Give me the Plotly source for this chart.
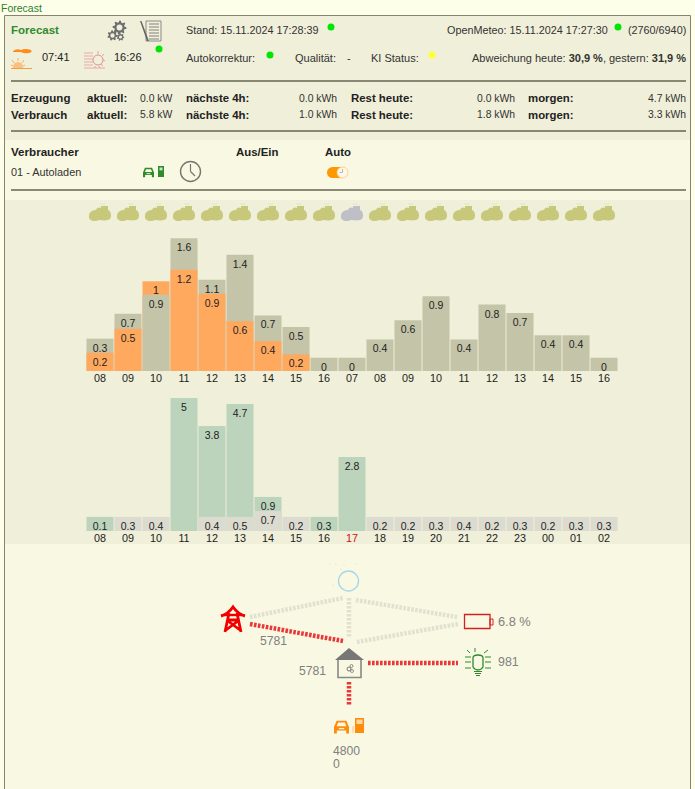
import re
import math
import plotly.graph_objects as go

W = 695
H = 789

pv_hours = ['08','09','10','11','12','13','14','15','16','07','08','09','10','11','12','13','14','15','16']
pv_forecast = [0.39,0.69,0.92,1.60,1.10,1.40,0.67,0.53,0.16,0.16,0.38,0.61,0.90,0.38,0.80,0.70,0.43,0.43,0.16]
pv_forecast_text = ['0.3','0.7','0.9','1.6','1.1','1.4','0.7','0.5','0','0','0.4','0.6','0.9','0.4','0.8','0.7','0.4','0.4','0']
pv_real = [0.22,0.51,1.08,1.22,0.93,0.60,0.36,0.20]
pv_real_text = ['0.2','0.5','1','1.2','0.9','0.6','0.4','0.2']
weather_grey = ['07']

# lower chart, consumption per hour
con_hours = ['08','09','10','11','12','13','14','15','16','17','18','19','20','21','22','23','00','01','02']
con_real = [0.53,None,None,5.00,3.95,4.77,1.28,None,0.53,2.78,None,None,None,None,None,None,None,None,None]
con_real_text = ['0.1','','','5','3.8','4.7','0.9','','0.3','2.8','','','','','','','','','']
con_forecast = [None,0.53,0.53,None,0.53,0.53,0.75,0.53,None,None,0.53,0.53,0.53,0.53,0.53,0.53,0.53,0.53,0.53]
con_forecast_text = ['','0.3','0.4','','0.4','0.5','0.7','0.2','','','0.2','0.2','0.3','0.4','0.2','0.3','0.2','0.3','0.3']
current_hour = '17'

C_GREY = '#c4c4a9'
C_ORANGE = '#ffa95f'
C_GREEN = '#bcd4bc'
C_LIGHT = '#dcdbd0'
C_PAGE = '#feffe8'
C_PANEL = '#f0efd9'
C_PANEL2 = '#f9f8e2'
C_RULE = '#66664f'
C_TEXT = '#333333'
FONT = 'Liberation Sans, Arial, sans-serif'


def px(x, y):
    return x / W, 1 - y / H


def pth(d):
    out = []
    isx = True
    for tok in re.findall(r'[A-Za-z]|-?[\d.]+', d):
        if tok.isalpha():
            out.append(tok)
            isx = True
        elif isx:
            out.append(str(float(tok) / W))
            isx = False
        else:
            out.append(str(1 - float(tok) / H))
            isx = True
    return ' '.join(out)


shapes = []
notes = []


def rect(x0, y0, x1, y1, fill=None, line=None, lw=1, layer='above'):
    a, b = px(x0, y0)
    c, d = px(x1, y1)
    shapes.append(dict(type='rect', xref='paper', yref='paper', x0=a, y0=b, x1=c, y1=d, layer=layer,
                       fillcolor=fill or 'rgba(0,0,0,0)', line=dict(color=line or 'rgba(0,0,0,0)', width=lw if line else 0)))


def seg(x0, y0, x1, y1, color, lw=1, dash=None, layer='above'):
    a, b = px(x0, y0)
    c, d = px(x1, y1)
    shapes.append(dict(type='line', xref='paper', yref='paper', x0=a, y0=b, x1=c, y1=d, layer=layer,
                       line=dict(color=color, width=lw, dash=dash or 'solid')))


def circ(cx, cy, r, fill=None, line=None, lw=1):
    a, b = px(cx - r, cy - r)
    c, d = px(cx + r, cy + r)
    shapes.append(dict(type='circle', xref='paper', yref='paper', x0=a, y0=b, x1=c, y1=d,
                       fillcolor=fill or 'rgba(0,0,0,0)', line=dict(color=line or 'rgba(0,0,0,0)', width=lw if line else 0)))


def poly(d, fill=None, line=None, lw=1):
    shapes.append(dict(type='path', xref='paper', yref='paper', path=pth(d),
                       fillcolor=fill or 'rgba(0,0,0,0)', line=dict(color=line or 'rgba(0,0,0,0)', width=lw if line else 0)))


def label(x, y, text, size=11, color=C_TEXT, bold=False, anchor='left'):
    a, b = px(x, y)
    if bold:
        text = '<b>' + text + '</b>'
    notes.append(dict(xref='paper', yref='paper', x=a, y=b, text=text, showarrow=False, xanchor=anchor, yanchor='middle',
                      font=dict(family=FONT, size=size, color=color), borderpad=0, borderwidth=0))


def gear(cx, cy, r, teeth, color):
    pts = []
    for i in range(teeth * 4):
        rad = r if i % 4 in (0, 1) else r * 0.72
        ang = 2 * math.pi * i / (teeth * 4)
        pts.append('%s %.2f %.2f' % ('M' if i == 0 else 'L', cx + rad * math.cos(ang), cy + rad * math.sin(ang)))
    poly(' '.join(pts) + ' Z', fill=color)
    circ(cx, cy, r * 0.42, fill=C_PANEL)


def cloud(cx, color):
    cy = 213
    d = (f'M {cx-11} {cy+3} C {cx-11} {cy-2} {cx-6} {cy-3} {cx-4} {cy-3} '
         f'C {cx-3} {cy-6} {cx} {cy-6} {cx+1} {cy-5} L {cx+1} {cy-7} L {cx+8} {cy-7} L {cx+8} {cy-3} '
         f'C {cx+12} {cy-2} {cx+12} {cy+7} {cx+8} {cy+7} C {cx+4} {cy+8} {cx+2} {cy+7} {cx-1} {cy+7} '
         f'C {cx-5} {cy+9} {cx-12} {cy+8} {cx-11} {cy+3} Z')
    poly(d, fill=color)
    for dx in (1, 3, 5):
        circ(cx + dx, cy - 9, 0.4, fill=color)


# backgrounds
rect(4.5, 15.5, 690.5, 800, fill=C_PANEL2, line='#85856f', lw=1, layer='below')
rect(5, 16, 690, 140, fill=C_PANEL, layer='below')
rect(5, 200, 690, 544, fill=C_PANEL, layer='below')

for yy in (81, 131, 190):
    seg(11, yy, 686, yy, C_RULE, lw=1.6)

# header text
label(1, 8, 'Forecast', size=10.5, color='#2e7d32')
label(11, 30, 'Forecast', size=11.5, color='#2e8b2e', bold=True)
label(186, 30, 'Stand: 15.11.2024 17:28:39', size=10.8)
label(608, 30, 'OpenMeteo: 15.11.2024 17:27:30', size=10.8, anchor='right')
label(686, 30, '(2760/6940)', size=10.8, anchor='right')
label(42, 57, '07:41', color='#222222')
label(114, 57, '16:26', color='#222222')
label(186, 58, 'Autokorrektur:')
label(295, 58, 'Qualität:')
label(347, 58, '-')
label(371, 58, 'KI Status:')
label(686, 58, 'Abweichung heute: <b>30,9 %</b>, gestern: <b>31,9 %</b>', anchor='right')

for x, y, col in [(331, 27, '#00e600'), (618, 27, '#00e600'), (159, 49, '#00e600'), (270, 55, '#00e600'), (432, 55, '#ffff33')]:
    circ(x, y, 3.5, fill=col)

# summary rows
for y, name, now, n4, rest, tom in [(98, 'Erzeugung', '0.0 kW', '0.0 kWh', '0.0 kWh', '4.7 kWh'),
                                    (115, 'Verbrauch', '5.8 kW', '1.0 kWh', '1.8 kWh', '3.3 kWh')]:
    label(11, y, name, size=11.5, bold=True, color='#222222')
    label(87, y, 'aktuell:', size=11.5, bold=True, color='#222222')
    label(173, y, now, size=10.4, anchor='right')
    label(186, y, 'nächste 4h:', size=11.4, bold=True, color='#222222')
    label(337, y, n4, size=10.4, anchor='right')
    label(351, y, 'Rest heute:', size=11.4, bold=True, color='#222222')
    label(515, y, rest, size=10.4, anchor='right')
    label(528, y, 'morgen:', size=11.4, bold=True, color='#222222')
    label(686, y, tom, size=10.4, anchor='right')

label(11, 152, 'Verbraucher', size=11.6, bold=True, color='#222222')
label(236, 152, 'Aus/Ein', size=11.4, bold=True, color='#222222')
label(325, 152, 'Auto', size=11.4, bold=True, color='#222222')
label(11, 172, '01 - Autoladen', size=10.9)

# header icons
gear(119.5, 27.5, 7, 8, '#6e6e6e')
gear(112.5, 35.5, 5.2, 7, '#6e6e6e')
gear(120.5, 37, 3.8, 7, '#6e6e6e')
rect(146, 21, 161, 41, line='#8a8a8a', lw=1)
for yy in range(24, 40, 3):
    seg(149, yy, 159, yy, '#808080', lw=1)
poly('M 140 21 L 141.5 21 L 149 41 L 147 41 Z', fill='#666666')

poly('M 13 51 Q 17 48 21 50 Q 25 48 31 50 Q 33 52 29 53 Q 24 54 21 52 L 13 52 Z', fill='#ff8c1a')
seg(11, 68.5, 32, 68.5, '#f0a040', lw=1)
poly('M 13 68 Q 13 62 18 62 Q 23 62 23 68 Z', fill='#fac080')
for x0, y0, x1, y1 in [(18, 58, 18, 61), (12, 60, 14, 63), (24, 60, 22, 63), (11, 65, 13, 66), (25, 65, 23, 66)]:
    seg(x0, y0, x1, y1, '#f5b060', lw=1)

circ(98, 60, 5, line='#e08f8f', lw=1)
for yy in (53, 56, 59, 62, 65):
    seg(84, yy, 93, yy, '#e9a9a9', lw=1)
for x0, y0, x1, y1 in [(98, 51, 98, 54), (104, 54, 102, 56), (105, 61, 103, 60), (103, 66, 101, 64), (95, 68, 95, 66), (100, 68, 99, 66)]:
    seg(x0, y0, x1, y1, '#e9a0a0', lw=1)
seg(84, 68, 105, 68, '#e9a9a9', lw=1)


def car(cx, cy, s, col, bg):
    # cx, cy is the middle of the car, s its half width
    h = s * 0.85
    poly(f'M {cx-s} {cy+h*0.55} L {cx-s} {cy} L {cx-s*0.65} {cy-h} L {cx+s*0.65} {cy-h} L {cx+s} {cy} '
         f'L {cx+s} {cy+h} L {cx+s*0.62} {cy+h} L {cx+s*0.62} {cy+h*0.55} L {cx-s*0.62} {cy+h*0.55} '
         f'L {cx-s*0.62} {cy+h} L {cx-s} {cy+h} Z', fill=col)
    poly(f'M {cx-s*0.65} {cy-h*0.1} L {cx-s*0.45} {cy-h*0.7} L {cx+s*0.45} {cy-h*0.7} L {cx+s*0.65} {cy-h*0.1} Z', fill=bg)
    rect(cx - s * 0.35, cy + h * 0.15, cx + s * 0.35, cy + h * 0.35, fill=bg)


def pump(x0, y0, x1, y1, col, bg):
    rect(x0, y0, x1, y1, fill=col)
    rect(x0 + 1.5, y0 + 1.5, x1 - 1.5, y0 + (y1 - y0) * 0.4, fill=bg)


car(148.5, 172.5, 5.5, '#2e8b2e', C_PANEL2)
pump(158, 166, 164, 177, '#2e8b2e', '#cde3c0')
circ(190.5, 171.5, 10, line='#777770', lw=1.4)
seg(190.5, 171.5, 190.5, 164, '#777770', lw=1.2)
seg(190.5, 171.5, 195, 176, '#777770', lw=1.2)

rect(332, 167, 343, 178, fill='#ff9800', layer='above')
circ(332.5, 172.5, 5.5, fill='#ff9800')
circ(342.5, 172.5, 5.5, fill='#fff8e8', line='#ffc070', lw=0.8)
seg(342.5, 172.5, 342.5, 169, '#aaaaaa', lw=0.8)
seg(342.5, 172.5, 339.5, 172.5, '#aaaaaa', lw=0.8)

# weather row above the bars
for i, h in enumerate(pv_hours):
    grey = h in weather_grey
    cloud(100 + 28 * i, '#bfbfc8' if grey else '#c8c87a')

# flow lines
FLOW_OFF = '#e2e1d0'
FLOW_ON = '#e83838'
DASH = '2.6px,1.4px'
seg(250, 617, 343, 598, FLOW_OFF, lw=4.5, dash=DASH)
seg(349, 598, 349, 637, FLOW_OFF, lw=4.5, dash=DASH)
seg(356, 600, 457, 617, FLOW_OFF, lw=4.5, dash=DASH)
seg(357, 642, 458, 624, FLOW_OFF, lw=4.5, dash=DASH)
seg(250, 624, 343, 641, FLOW_ON, lw=4.5, dash=DASH)
seg(368, 663, 458, 663, FLOW_ON, lw=4.5, dash=DASH)
seg(349, 682, 349, 705, FLOW_ON, lw=4.5, dash=DASH)

# sun
circ(348.5, 581, 10, line='#a8d8e8', lw=1.4)
for x, y in [(330, 564), (336, 564), (344, 565), (356, 564), (333, 585), (341, 569)]:
    circ(x, y, 0.5, fill='#cfcfc0')

# pylon
RED = '#f20000'
poly('M 221 616 Q 228 614 233 607 Q 238 614 245 616', line=RED, lw=3)
poly('M 229 613 L 225 632 M 237 613 L 241 632 M 227 620 L 239 620 M 228 621 L 240 630 M 238 621 L 226 630', line=RED, lw=2.8)
seg(224, 615, 242, 615, RED, lw=2.4)

# battery
rect(464.5, 614.5, 490, 628.5, line='#d42020', lw=1.3)
rect(490, 619, 493, 625, line='#d42020', lw=1)

# bulb
GREEN = '#2e8b2e'
poly('M 473 658 Q 473 655 478 655 Q 483 655 483 658 L 483 667 Q 481 670 478 670 Q 475 670 473 667 Z', line=GREEN, lw=1.3)
for yy, w in [(671.5, 4), (673.5, 3), (675.5, 2)]:
    seg(478 - w, yy, 478 + w, yy, GREEN, lw=1)
for x0, y0, x1, y1 in [(465, 657, 471, 657), (465, 662, 471, 662), (465, 668, 471, 668), (485, 657, 491, 657),
                       (485, 662, 491, 662), (485, 668, 491, 668), (475, 648, 475, 652), (467, 650, 470, 653), (488, 650, 484, 653)]:
    seg(x0, y0, x1, y1, GREEN, lw=1)

# house
poly('M 349 648 L 335 660 L 364 660 Z', fill='#777777')
poly('M 338 660 L 338 677.5 L 361 677.5 L 361 660', line='#888888', lw=1.6)
circ(349, 669, 2, line='#777777', lw=1)
circ(351.5, 666, 1.5, line='#777777', lw=0.8)
circ(352, 671, 1.5, line='#777777', lw=0.8)

# car and pump at the bottom
car(341.5, 727, 7.5, '#ff8c0a', C_PANEL2)
pump(355, 718, 364, 733, '#ff8c0a', '#ffd9a0')
seg(353, 733, 353, 726, '#ffc080', lw=1)

FLOW_C = '#808080'
label(260, 641, '5781', size=12.2, color=FLOW_C)
label(299, 671, '5781', size=12.2, color=FLOW_C)
label(498, 621, '6.8 %', size=12.8, color=FLOW_C)
label(498, 662, '981', size=12.4, color=FLOW_C)
label(333, 751, '4800', size=12.2, color=FLOW_C)
label(333, 764, '0', size=12.2, color=FLOW_C)

# smaller bar goes in front, the label of each stays at its own top
pv_x = list(range(len(pv_hours)))
real = pv_real + [None] * (len(pv_hours) - len(pv_real))
real_text = pv_real_text + [''] * (len(pv_hours) - len(pv_real))
back_y, back_c, back_t, front_y, front_c, front_t = [], [], [], [], [], []
for g, gt, o, ot in zip(pv_forecast, pv_forecast_text, real, real_text):
    if o is None:
        back_y.append(g); back_c.append(C_GREY); back_t.append(gt)
        front_y.append(None); front_c.append(C_ORANGE); front_t.append('')
    elif o > g:
        back_y.append(o); back_c.append(C_ORANGE); back_t.append(ot)
        front_y.append(g); front_c.append(C_GREY); front_t.append(gt)
    else:
        back_y.append(g); back_c.append(C_GREY); back_t.append(gt)
        front_y.append(o); front_c.append(C_ORANGE); front_t.append(ot)

bar_text = dict(textposition='inside', insidetextanchor='end', constraintext='none', textangle=0,
                textfont=dict(family=FONT, size=10.5, color='#222222'), width=0.965, marker_line_width=0,
                showlegend=False, hoverinfo='skip')

fig = go.Figure()
fig.add_trace(go.Bar(x=pv_x, y=back_y, text=back_t, marker_color=back_c, xaxis='x', yaxis='y', **bar_text))
fig.add_trace(go.Bar(x=pv_x, y=front_y, text=front_t, marker_color=front_c, xaxis='x', yaxis='y', **bar_text))
con_x = list(range(len(con_hours)))
fig.add_trace(go.Bar(x=con_x, y=con_real, text=con_real_text, marker_color=C_GREEN, xaxis='x2', yaxis='y2', **bar_text))
fig.add_trace(go.Bar(x=con_x, y=con_forecast, text=con_forecast_text, marker_color=C_LIGHT, xaxis='x2', yaxis='y2', **bar_text))

con_ticks = ['<span style="color:#cc1111">%s</span>' % h if h == current_hour else h for h in con_hours]
x_common = dict(domain=[86 / W, 618 / W], range=[-0.5, 18.5], showgrid=False, zeroline=False, showline=False, ticks='',
                tickmode='array', tickangle=0, ticklabelstandoff=-1, tickfont=dict(family=FONT, size=10.8, color='#222222'))
y_common = dict(visible=False, showgrid=False, zeroline=False)

fig.update_layout(
    width=W, height=H, autosize=False, margin=dict(l=0, r=0, t=0, b=0),
    barmode='overlay', paper_bgcolor=C_PAGE, plot_bgcolor='rgba(0,0,0,0)', showlegend=False,
    xaxis=dict(anchor='y', tickvals=pv_x, ticktext=pv_hours, **x_common),
    yaxis=dict(anchor='x', domain=[1 - 371 / H, 1 - 205 / H], range=[0, 2], **y_common),
    xaxis2=dict(anchor='y2', tickvals=con_x, ticktext=con_ticks, **x_common),
    yaxis2=dict(anchor='x2', domain=[1 - 531 / H, 1 - 398 / H], range=[0, 5], **y_common),
    shapes=shapes, annotations=notes,
)

fig.write_html("out.html", config=dict(displayModeBar=False),
               post_script="document.body.style.margin='0';document.body.style.overflow='hidden';")
